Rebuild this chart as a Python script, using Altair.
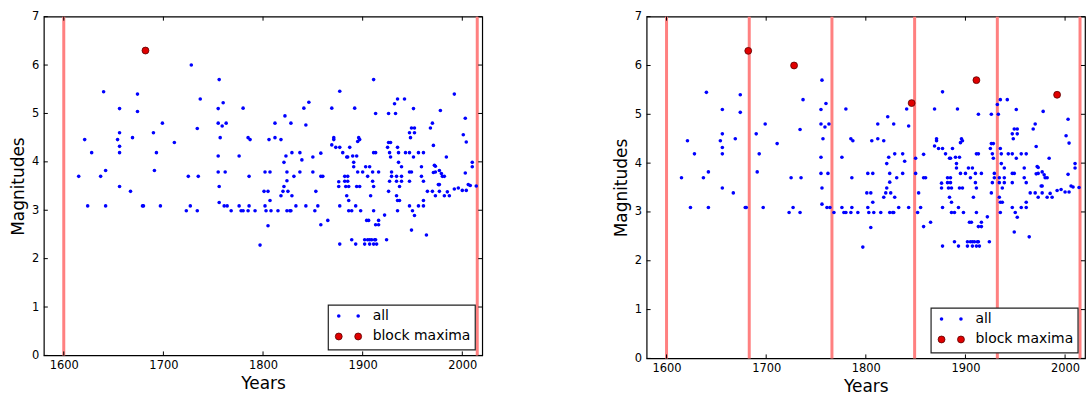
import altair as alt
import pandas as pd

# ---------------- data ----------------
years = [
    1640, 1656, 1656, 1621, 1654, 1656, 1628, 1656, 1642, 1615, 1637, 1656, 1667, 1624, 1642, 1669,
    1728, 1674, 1737, 1674, 1699, 1690, 1734, 1711, 1693, 1691, 1725, 1735, 1679, 1680, 1697, 1727,
    1723, 1734, 1682,
    1756, 1760, 1755, 1780, 1755, 1759, 1763, 1757, 1785, 1787, 1806, 1755, 1776, 1755, 1762, 1786,
    1802, 1807, 1756, 1801, 1805, 1756, 1761, 1764, 1776, 1786, 1802, 1807, 1768, 1778, 1780, 1785,
    1792, 1803, 1808, 1805, 1797,
    1877, 1846, 1841, 1869, 1822, 1812, 1828, 1843, 1812, 1818, 1871, 1871, 1869, 1873, 1877, 1823,
    1829, 1837, 1821, 1839, 1850, 1858, 1824, 1837, 1850, 1831, 1858, 1860, 1824, 1821, 1820, 1825,
    1853, 1876, 1876, 1818, 1829, 1833, 1843, 1855, 1877, 1815, 1824, 1827, 1828, 1852, 1858, 1865,
    1877,
    1911, 1935, 1942, 1932, 1892, 1913, 1926, 1933, 1896, 1897, 1895, 1926, 1928, 1887, 1925, 1935,
    1880, 1911, 1913, 1927, 1936, 1943, 1884, 1885, 1890, 1894, 1928, 1891, 1936, 1891, 1903, 1907,
    1939, 1895, 1900, 1910, 1916, 1929, 1947, 1882, 1885, 1905, 1929, 1934, 1939, 1882, 1885, 1910,
    1927, 1934, 1939, 1947, 1883, 1886, 1894, 1897, 1911, 1937, 1884, 1908, 1886, 1926, 1934, 1935,
    1937, 1893, 1947, 1886, 1889, 1898, 1911, 1922, 1935, 1904, 1906, 1916, 1913, 1916, 1889, 1902,
    1905, 1907, 1909, 1912, 1913, 1924, 1893, 1902, 1907, 1911, 1914,
    1992, 1951, 1978, 2003, 1949, 1952, 1968, 1970, 1947, 1952, 2001, 1948, 2004, 1971, 1947, 1956,
    1961, 1951, 1984, 2010, 2010, 1959, 1972, 1973, 1949, 1971, 1973, 1977, 1979, 2003, 1959, 1980,
    1982, 1961, 2006, 2008, 2014, 1976, 1977, 1992, 1996, 2000, 2004, 1965, 1970, 1977, 1985, 1973,
    1982, 1987, 1961, 1961, 1956, 1950, 1952, 1949, 1964,
]
magnitudes = [
    5.45, 5.1, 4.6, 4.46, 4.46, 4.32, 4.19, 4.19, 3.82, 3.7, 3.7, 3.49, 3.39, 3.09, 3.09, 4.5,
    6.0, 5.4, 5.3, 5.04, 4.8, 4.6, 4.69, 4.4, 4.19, 3.82, 3.7, 3.7, 3.09, 3.09, 3.09, 3.09,
    2.99, 2.99, 6.3,
    5.7, 5.22, 5.1, 5.11, 4.8, 4.74, 4.8, 4.5, 4.5, 4.46, 4.46, 4.12, 4.12, 3.79, 3.79, 3.7,
    3.79, 3.79, 3.49, 3.39, 3.39, 3.16, 3.09, 3.09, 3.09, 3.09, 3.09, 3.2, 2.99, 2.99, 2.99, 2.99,
    2.99, 2.99, 2.99, 2.68, 2.28,
    5.46, 5.23, 5.11, 5.11, 4.95, 4.8, 4.8, 4.76, 4.5, 4.46, 4.5, 4.46, 4.35, 4.3, 4.3, 4.12,
    4.19, 4.19, 3.99, 4.04, 4.1, 4.18, 3.79, 3.79, 3.79, 3.7, 3.7, 3.7, 3.61, 3.49, 3.39, 3.39,
    3.39, 3.59, 3.49, 3.3, 3.3, 3.09, 3.09, 3.09, 3.09, 2.99, 2.99, 2.99, 2.99, 2.99, 2.7, 2.79,
    2.3,
    5.7, 5.3, 5.3, 5.2, 5.11, 5.0, 5.0, 5.0, 4.5, 4.46, 4.42, 4.4, 4.4, 4.3, 4.3, 4.3,
    4.19, 4.19, 4.19, 4.19, 4.19, 4.19, 4.1, 4.1, 4.12, 4.12, 4.1, 3.99, 3.99, 3.9, 3.9, 3.9,
    3.9, 3.79, 3.79, 3.79, 3.79, 3.79, 3.79, 3.7, 3.7, 3.7, 3.7, 3.7, 3.7, 3.6, 3.6, 3.6,
    3.6, 3.6, 3.6, 3.6, 3.49, 3.49, 3.49, 3.49, 3.49, 3.49, 3.3, 3.3, 3.2, 3.39, 3.3, 3.2,
    3.2, 3.09, 3.09, 2.99, 2.99, 2.99, 2.99, 2.9, 2.99, 2.79, 2.79, 2.79, 2.7, 2.7, 2.39, 2.39,
    2.39, 2.39, 2.39, 2.39, 2.39, 2.39, 2.3, 2.3, 2.3, 2.3, 2.3,
    5.4, 5.1, 5.06, 4.9, 4.7, 4.7, 4.7, 4.8, 4.6, 4.6, 4.56, 4.5, 4.41, 4.34, 4.19, 4.19,
    4.19, 4.1, 4.1, 3.99, 3.9, 3.9, 3.93, 3.91, 3.79, 3.78, 3.79, 3.82, 3.76, 3.77, 3.7, 3.7,
    3.7, 3.6, 3.53, 3.51, 3.5, 3.53, 3.53, 3.44, 3.46, 3.41, 3.41, 3.39, 3.39, 3.39, 3.38, 3.3,
    3.3, 3.3, 3.2, 3.09, 3.09, 2.99, 2.89, 2.59, 2.49,
]

# block maxima
left_max_years = [1682]
left_max_mags = [6.3]
right_max_years = [1682, 1728, 1846, 1911, 1992]
right_max_mags = [6.3, 6.0, 5.23, 5.7, 5.4]

# block boundaries
left_bounds = [1600, 2015]
right_bounds = [1600, 1683, 1766, 1849, 1932, 2015]

x_tick_values = [1600, 1700, 1800, 1900, 2000]
y_tick_values = [0, 1, 2, 3, 4, 5, 6, 7]
legend_labels = ["all", "block maxima"]

X_DOMAIN = [1580, 2020]
Y_DOMAIN = [0, 7]

BLUE = "#0000ff"
RED_FILL = "#e00000"
RED_EDGE = "#5a0000"
LINE_RED = "#ff8080"
FONT = "DejaVu Sans"

points_df = pd.DataFrame({"year": years, "mag": magnitudes})
one_row = pd.DataFrame({"k": [0]})


def panel(W, H, bounds, max_years, max_mags):
    xs = alt.Scale(domain=X_DOMAIN, nice=False, zero=False)
    ys = alt.Scale(domain=Y_DOMAIN, nice=False, zero=False)

    x_axis = alt.Axis(values=x_tick_values, format="d", title="Years", ticks=False,
                      domain=False, grid=False, labelFontSize=11.5, labelPadding=4,
                      titleFontSize=17, titlePadding=5, titleFontWeight="normal",
                      labelColor="#000", titleColor="#000", labelFont=FONT, titleFont=FONT)
    y_axis = alt.Axis(values=y_tick_values, format="d", title="Magnitudes", ticks=False,
                      domain=False, grid=False, labelFontSize=11.5, labelPadding=5,
                      titleFontSize=17, titlePadding=4, titleFontWeight="normal",
                      labelColor="#000", titleColor="#000", labelFont=FONT, titleFont=FONT)

    bounds_df = pd.DataFrame({"year": bounds})
    max_df = pd.DataFrame({"year": max_years, "mag": max_mags})
    xt_df = pd.DataFrame({"year": x_tick_values})
    yt_df = pd.DataFrame({"mag": y_tick_values})

    blue = alt.Chart(points_df).mark_circle(color=BLUE, size=13, opacity=1).encode(
        x=alt.X("year:Q", scale=xs, axis=x_axis),
        y=alt.Y("mag:Q", scale=ys, axis=y_axis),
    )
    vlines = alt.Chart(bounds_df).mark_rule(color=LINE_RED, strokeWidth=3).encode(
        x=alt.X("year:Q", scale=xs),
    )
    reds = alt.Chart(max_df).mark_circle(fill=RED_FILL, stroke=RED_EDGE, strokeWidth=0.8,
                                         size=48, opacity=1).encode(
        x=alt.X("year:Q", scale=xs),
        y=alt.Y("mag:Q", scale=ys),
    )
    tick_len = 4
    yl = alt.Chart(yt_df).mark_rule(color="#000", strokeWidth=1).encode(
        y=alt.Y("mag:Q", scale=ys), x=alt.value(0), x2=alt.value(tick_len))
    yr = alt.Chart(yt_df).mark_rule(color="#000", strokeWidth=1).encode(
        y=alt.Y("mag:Q", scale=ys), x=alt.value(W - tick_len), x2=alt.value(W))
    xb = alt.Chart(xt_df).mark_rule(color="#000", strokeWidth=1).encode(
        x=alt.X("year:Q", scale=xs), y=alt.value(H - tick_len), y2=alt.value(H))
    xtop = alt.Chart(xt_df).mark_rule(color="#000", strokeWidth=1).encode(
        x=alt.X("year:Q", scale=xs), y=alt.value(0), y2=alt.value(tick_len))

    # legend box anchored at the bottom-right of the plot area
    bx2 = W - 7
    by2 = H - 5.5
    bx1 = bx2 - 147.5
    by1 = by2 - 45
    row1 = by1 + 11
    row2 = by1 + 31.5
    d1 = bx1 + 10.5
    d2 = bx1 + 30
    tx = bx1 + 44.5

    box = alt.Chart(one_row).mark_rect(fill="white", stroke="#222", strokeWidth=1.2).encode(
        x=alt.value(bx1), x2=alt.value(bx2), y=alt.value(by1), y2=alt.value(by2))
    leg = [box]
    for dx in (d1, d2):
        leg.append(alt.Chart(one_row).mark_circle(color=BLUE, size=13, opacity=1).encode(
            x=alt.value(dx), y=alt.value(row1)))
        leg.append(alt.Chart(one_row).mark_circle(fill=RED_FILL, stroke=RED_EDGE, strokeWidth=0.8,
                                                  size=48, opacity=1).encode(
            x=alt.value(dx), y=alt.value(row2)))
    for lab, ry in zip(legend_labels, (row1, row2)):
        leg.append(alt.Chart(one_row).mark_text(text=lab, align="left", baseline="middle",
                                                fontSize=14, font=FONT, color="#000").encode(
            x=alt.value(tx), y=alt.value(ry)))

    return alt.layer(vlines, blue, reds, yl, yr, xb, xtop, *leg).properties(width=W, height=H)


left = panel(440, 340, left_bounds, left_max_years, left_max_mags)
right = panel(440, 343, right_bounds, right_max_years, right_max_mags)

chart = alt.hconcat(left, right, spacing=128).properties(
    padding={"left": 9, "top": 9, "right": 0, "bottom": 0},
    background="white",
).configure(font=FONT).configure_view(stroke="#000", strokeWidth=1.2)

chart.save("out.html", embed_options={"renderer": "svg", "actions": False})
